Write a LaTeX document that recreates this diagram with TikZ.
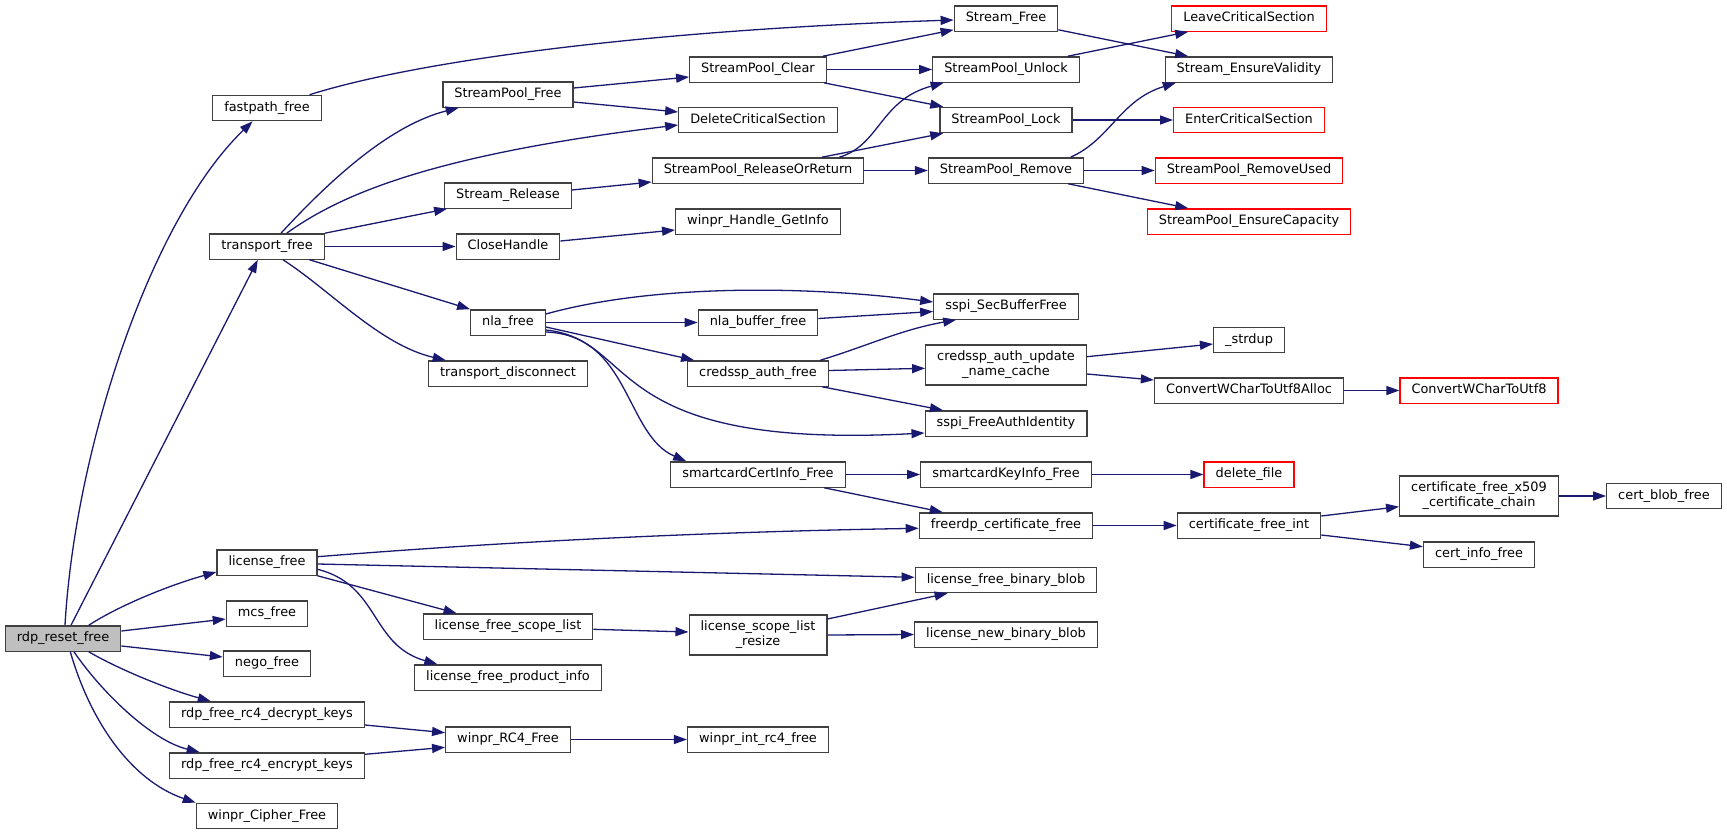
\documentclass[tikz,border=0pt]{standalone}
\usepackage{fontspec}
\setmainfont{DejaVu Sans}
\usetikzlibrary{arrows.meta}
\definecolor{edgeblue}{HTML}{191970}
\definecolor{boxgrey}{HTML}{404040}
\definecolor{rootgrey}{HTML}{BFBFBF}
\tikzset{
  fnbase/.style={draw=boxgrey, fill=white, line width=1.3pt, inner xsep=11.5pt, inner ysep=0pt, font=\fontsize{12.9}{15}\selectfont},
  fn/.style={fnbase, minimum height=25.3pt, text height=9.6pt, text depth=2.8pt},
  fnred/.style={fn, draw=red},
  fnroot/.style={fn, fill=rootgrey},
  fntwo/.style={fnbase, align=center, minimum height=40pt},
  call/.style={draw=edgeblue, line width=1.3pt, -{Triangle[length=13pt,width=9pt]}}
}
\begin{document}
\begin{tikzpicture}[x=1pt,y=-1pt]
\useasboundingbox (0,0) rectangle (1727,835);
\node[fnroot] (root) at (63,638.5) {rdp\_reset\_free};
\node[fn] (fastpath) at (267,108) {fastpath\_free};
\node[fn] (transport) at (267,246.5) {transport\_free};
\node[fn] (license) at (267,562.5) {license\_free};
\node[fn] (mcs) at (267,613.5) {mcs\_free};
\node[fn] (nego) at (267,663.5) {nego\_free};
\node[fn] (decrypt) at (267,714.5) {rdp\_free\_rc4\_decrypt\_keys};
\node[fn] (encrypt) at (267,765.5) {rdp\_free\_rc4\_encrypt\_keys};
\node[fn] (cipher) at (267,816) {winpr\_Cipher\_Free};
\node[fn] (poolfree) at (508,94.5) {StreamPool\_Free};
\node[fn] (release) at (508,195.5) {Stream\_Release};
\node[fn] (closeh) at (508,246.5) {CloseHandle};
\node[fn] (nla) at (508,322.5) {nla\_free};
\node[fn] (disconnect) at (508,373.5) {transport\_disconnect};
\node[fn] (scopelist) at (508,626.5) {license\_free\_scope\_list};
\node[fn] (productinfo) at (508,677.5) {license\_free\_product\_info};
\node[fn] (rc4) at (508,739.5) {winpr\_RC4\_Free};
\node[fn] (poolclear) at (758,69.5) {StreamPool\_Clear};
\node[fn] (delcs) at (758,120) {DeleteCriticalSection};
\node[fn] (releaseor) at (758,170.5) {StreamPool\_ReleaseOrReturn};
\node[fn] (getinfo) at (758,221.5) {winpr\_Handle\_GetInfo};
\node[fn] (nlabuf) at (758,322.5) {nla\_buffer\_free};
\node[fn] (credfree) at (758,373.5) {credssp\_auth\_free};
\node[fn] (certinfo) at (758,474.5) {smartcardCertInfo\_Free};
\node[fntwo] (resize) at (758,635) {license\_scope\_list\\\_resize};
\node[fn] (intrc4) at (758,739.5) {winpr\_int\_rc4\_free};
\node[fn] (streamfree) at (1006,18.5) {Stream\_Free};
\node[fn] (unlock) at (1006,69.5) {StreamPool\_Unlock};
\node[fn] (lock) at (1006,120) {StreamPool\_Lock};
\node[fn] (remove) at (1006,170.5) {StreamPool\_Remove};
\node[fn] (secbuf) at (1006,306.5) {sspi\_SecBufferFree};
\node[fntwo] (namecache) at (1006,365) {credssp\_auth\_update\\\_name\_cache};
\node[fn] (authid) at (1006,423.5) {sspi\_FreeAuthIdentity};
\node[fn] (keyinfo) at (1006,474.5) {smartcardKeyInfo\_Free};
\node[fn] (certfree) at (1006,525.5) {freerdp\_certificate\_free};
\node[fn] (freeblob) at (1006,580) {license\_free\_binary\_blob};
\node[fn] (newblob) at (1006,634.5) {license\_new\_binary\_blob};
\node[fnred] (leavecs) at (1249,18.5) {LeaveCriticalSection};
\node[fn] (validity) at (1249,69.5) {Stream\_EnsureValidity};
\node[fnred] (entercs) at (1249,120) {EnterCriticalSection};
\node[fnred] (removeused) at (1249,170.5) {StreamPool\_RemoveUsed};
\node[fnred] (capacity) at (1249,221.5) {StreamPool\_EnsureCapacity};
\node[fn] (strdup) at (1249,340) {\_strdup};
\node[fn] (convalloc) at (1249,390.5) {ConvertWCharToUtf8Alloc};
\node[fnred] (deletefile) at (1249,474.5) {delete\_file};
\node[fn] (certint) at (1249,525.5) {certificate\_free\_int};
\node[fnred] (convert) at (1479,390.5) {ConvertWCharToUtf8};
\node[fntwo] (x509) at (1479,496) {certificate\_free\_x509\\\_certificate\_chain};
\node[fn] (certinfofree) at (1479,554.5) {cert\_info\_free};
\node[fn] (blobfree) at (1664,496) {cert\_blob\_free};
\draw[call] ([xshift=2pt]root.north) .. controls (75,450) and (150,220) .. ([xshift=-14.4pt]fastpath.south);
\draw[call] ([xshift=8pt]root.north) -- ([xshift=-9.2pt]transport.south);
\draw[call] ([xshift=25.8pt]root.north) .. controls (120,605) and (170,585) .. ([yshift=-9.5pt]license.west);
\draw[call] ([yshift=7.5pt]root.east) -- ([yshift=-5.5pt]mcs.west);
\draw[call] ([yshift=-7.5pt]root.east) -- ([yshift=6.5pt]nego.west);
\draw[call] ([xshift=25.8pt]root.south) .. controls (120,670) and (170,690) .. ([xshift=-56.2pt]decrypt.north);
\draw[call] ([xshift=11pt]root.south) .. controls (100,690) and (150,740) .. ([xshift=-67.3pt]encrypt.north);
\draw[call] ([xshift=7.3pt]root.south) .. controls (90,720) and (130,780) .. (cipher.north west);
\draw[call] ([xshift=42.6pt]fastpath.north) .. controls (420,60) and (650,30) .. ([yshift=-1.5pt]streamfree.west);
\draw[call] ([xshift=14pt]transport.north) .. controls (330,180) and (390,125) .. ([xshift=-49.3pt]poolfree.south);
\draw[call] ([xshift=19.7pt]transport.north) .. controls (340,195) and (430,155) .. ([yshift=-5pt]delcs.west);
\draw[call] (transport.north east) -- ([xshift=3pt]release.south west);
\draw[call] (transport.east) -- (closeh.west);
\draw[call] ([xshift=42.6pt]transport.south) -- (nla.north west);
\draw[call] ([xshift=16pt]transport.south) .. controls (330,290) and (380,345) .. ([xshift=-62.3pt]disconnect.north);
\draw[call] ([yshift=6.5pt]poolfree.east) -- ([yshift=-7.5pt]poolclear.west);
\draw[call] ([yshift=-7.5pt]poolfree.east) -- ([yshift=8pt]delcs.west);
\draw[call] ([xshift=-4pt]poolclear.north east) -- ([yshift=2pt]streamfree.south west);
\draw[call] (poolclear.east) -- (unlock.west);
\draw[call] ([xshift=-3pt]poolclear.south east) -- ([xshift=4pt]lock.north west);
\draw[call] ([yshift=2pt]streamfree.south east) -- ([xshift=23.6pt]validity.north west);
\draw[call] ([xshift=-12pt]unlock.north east) -- ([xshift=17pt]leavecs.south west);
\draw[call] (lock.east) -- (entercs.west);
\draw[call] ([yshift=5.5pt]release.east) -- ([yshift=-11.5pt]releaseor.west);
\draw[call] ([yshift=5.5pt]closeh.east) -- ([yshift=-8.5pt]getinfo.west);
\draw[call] ([xshift=81.4pt]releaseor.north) .. controls (880,145) and (880,100) .. ([xshift=11.5pt]unlock.south west);
\draw[call] ([xshift=64pt]releaseor.north) -- ([xshift=4pt]lock.south west);
\draw[call] (releaseor.east) -- (remove.west);
\draw[call] ([xshift=-13.7pt]remove.north east) .. controls (1110,140) and (1120,100) .. ([xshift=11.3pt]validity.south west);
\draw[call] (remove.east) -- (removeused.west);
\draw[call] ([xshift=-16pt]remove.south east) -- ([xshift=41.5pt]capacity.north west);
\draw[call] ([yshift=8.5pt]nla.east) .. controls (650,285) and (800,285) .. ([yshift=4.5pt]secbuf.west);
\draw[call] (nla.east) -- (nlabuf.west);
\draw[call] ([yshift=-4.5pt]nla.east) -- ([xshift=7pt]credfree.north west);
\draw[call] ([yshift=-7.5pt]nla.east) .. controls (640,340) and (600,450) .. ([yshift=-9.5pt]authid.west);
\draw[call] ([yshift=-9.5pt]nla.east) .. controls (630,335) and (625,435) .. ([xshift=16pt]certinfo.north west);
\draw[call] ([yshift=4pt]nlabuf.east) -- ([yshift=-5pt]secbuf.west);
\draw[call] ([xshift=-8.5pt]credfree.north east) .. controls (870,345) and (900,330) .. ([xshift=23pt]secbuf.south west);
\draw[call] ([yshift=3pt]credfree.east) -- ([yshift=-3.3pt]namecache.west);
\draw[call] ([xshift=-6.7pt]credfree.south east) -- ([xshift=18.4pt]authid.north west);
\draw[call] ([yshift=8.3pt]namecache.east) -- ([yshift=-4pt]strdup.west);
\draw[call] ([yshift=-9pt]namecache.east) -- ([yshift=10.5pt]convalloc.west);
\draw[call] (convalloc.east) -- (convert.west);
\draw[call] (certinfo.east) -- (keyinfo.west);
\draw[call] ([xshift=-21.5pt]certinfo.south east) -- ([xshift=24pt]certfree.north west);
\draw[call] (keyinfo.east) -- (deletefile.west);
\draw[call] (certfree.east) -- (certint.west);
\draw[call] ([yshift=9.5pt]certint.east) -- ([yshift=-10.7pt]x509.west);
\draw[call] ([yshift=-9.5pt]certint.east) -- ([yshift=7.8pt]certinfofree.west);
\draw[call] (x509.east) -- (blobfree.west);
\draw[call] ([yshift=5.8pt]license.east) .. controls (500,542) and (700,532) .. ([yshift=-2.8pt]certfree.west);
\draw[call] ([yshift=-1.5pt]license.east) -- ([yshift=2.7pt]freeblob.west);
\draw[call] (license.south east) -- ([xshift=34pt]scopelist.north west);
\draw[call] ([yshift=-6.8pt]license.east) .. controls (380,585) and (370,645) .. ([xshift=23.3pt]productinfo.north west);
\draw[call] ([yshift=-2.8pt]scopelist.east) -- ([yshift=3pt]resize.west);
\draw[call] ([yshift=16pt]resize.east) -- ([xshift=33pt]freeblob.south west);
\draw[call] (resize.east) -- (newblob.west);
\draw[call] ([yshift=-10.5pt]decrypt.east) -- ([yshift=6.8pt]rc4.west);
\draw[call] ([yshift=11.2pt]encrypt.east) -- ([yshift=-7.8pt]rc4.west);
\draw[call] (rc4.east) -- (intrc4.west);
\end{tikzpicture}
\end{document}
